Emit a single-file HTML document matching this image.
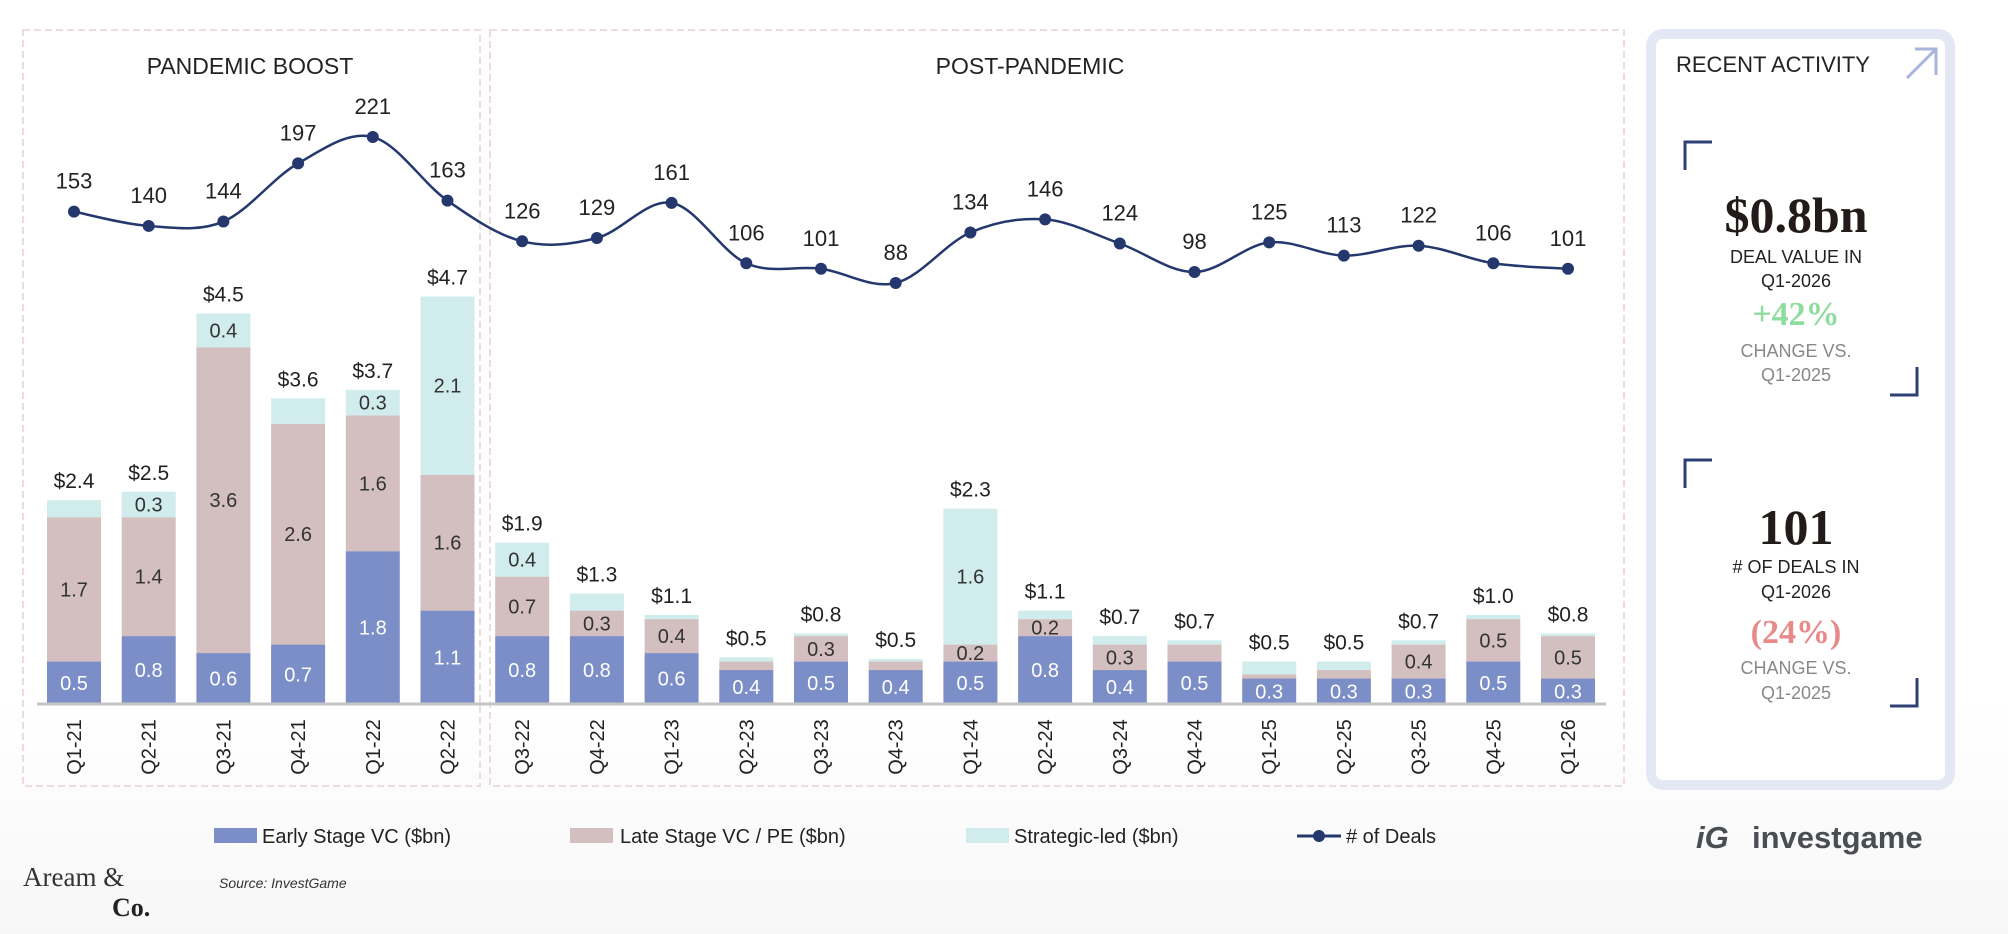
<!DOCTYPE html>
<html><head><meta charset="utf-8">
<style>
html,body{margin:0;padding:0;}
body{width:2008px;height:934px;overflow:hidden;background:linear-gradient(#ffffff 0%,#ffffff 75%,#f7f7f7 100%);font-family:"Liberation Sans",sans-serif;position:relative;}
svg{position:absolute;left:0;top:0;}
</style></head>
<body>
<svg id="chart" width="2008" height="934" viewBox="0 0 2008 934">
  <rect x="23" y="30" width="457" height="756" fill="none" stroke="#ecdcdc" stroke-width="2" stroke-dasharray="7,4"/>
  <rect x="490" y="30" width="1134" height="756" fill="none" stroke="#ecdcdc" stroke-width="2" stroke-dasharray="7,4"/>
  <text x="250" y="74" text-anchor="middle" font-size="23" fill="#222">PANDEMIC BOOST</text>
  <text x="1030" y="74" text-anchor="middle" font-size="23" fill="#222">POST-PANDEMIC</text>
  <g id="bars"></g>
  <line x1="37" y1="704" x2="1606" y2="704" stroke="#c4c4c4" stroke-width="3"/>
  <g id="xlabels"></g>
  <path id="dealline" fill="none" stroke="#25386e" stroke-width="2.5"/>
  <g id="points"></g>

  <g>
    <rect x="214" y="828" width="43" height="15" fill="#7b8ec8"/>
    <text x="262" y="843" font-size="20" fill="#222">Early Stage VC ($bn)</text>
    <rect x="570" y="828" width="43" height="15" fill="#d3bfbf"/>
    <text x="620" y="843" font-size="20" fill="#222">Late Stage VC / PE ($bn)</text>
    <rect x="966" y="828" width="43" height="15" fill="#d0ecec"/>
    <text x="1014" y="843" font-size="20" fill="#222">Strategic-led ($bn)</text>
    <line x1="1297" y1="836" x2="1341" y2="836" stroke="#25386e" stroke-width="3"/>
    <circle cx="1319" cy="836" r="6" fill="#25386e"/>
    <text x="1346" y="843" font-size="20" fill="#222"># of Deals</text>
  </g>

  <text x="23" y="886" font-family="Liberation Serif,serif" font-size="27" fill="#333">Aream &amp;</text>
  <text x="112" y="916" font-family="Liberation Serif,serif" font-size="26" font-weight="bold" fill="#222">Co.</text>
  <text x="219" y="888" font-size="14" font-style="italic" fill="#333">Source: InvestGame</text>
  <text x="1696" y="848" font-size="31" font-weight="bold" fill="#4a4d52" font-style="italic">iG</text>
  <text x="1752" y="848" font-size="31" font-weight="bold" fill="#4a4d52">investgame</text>

  <g>
    <rect x="1651" y="34" width="299" height="751" rx="12" fill="#ffffff" stroke="#e4e8f4" stroke-width="10"/>
    <text x="1676" y="72" font-size="22" fill="#222">RECENT ACTIVITY</text>
    <path d="M1907 78 L1935 50 M1915 49 L1936 49 L1936 75" fill="none" stroke="#a8b4dc" stroke-width="3"/>
    <path d="M1685 170 L1685 142 L1712 142" fill="none" stroke="#2e3f78" stroke-width="3"/>
    <path d="M1890 395 L1917 395 L1917 367" fill="none" stroke="#2e3f78" stroke-width="3"/>
    <text x="1796" y="232" text-anchor="middle" font-family="Liberation Serif,serif" font-size="50" font-weight="bold" fill="#231a1a">$0.8bn</text>
    <text x="1796" y="263" text-anchor="middle" font-size="18" fill="#222">DEAL VALUE IN</text>
    <text x="1796" y="287" text-anchor="middle" font-size="18" fill="#222">Q1-2026</text>
    <text x="1796" y="325" text-anchor="middle" font-family="Liberation Serif,serif" font-size="34" font-weight="bold" fill="#8fdca0">+42%</text>
    <text x="1796" y="357" text-anchor="middle" font-size="18" fill="#888">CHANGE VS.</text>
    <text x="1796" y="381" text-anchor="middle" font-size="18" fill="#888">Q1-2025</text>
    <path d="M1685 488 L1685 460 L1712 460" fill="none" stroke="#2e3f78" stroke-width="3"/>
    <path d="M1890 706 L1917 706 L1917 678" fill="none" stroke="#2e3f78" stroke-width="3"/>
    <text x="1796" y="544" text-anchor="middle" font-family="Liberation Serif,serif" font-size="50" font-weight="bold" fill="#231a1a">101</text>
    <text x="1796" y="573" text-anchor="middle" font-size="18" fill="#222"># OF DEALS IN</text>
    <text x="1796" y="598" text-anchor="middle" font-size="18" fill="#222">Q1-2026</text>
    <text x="1796" y="643" text-anchor="middle" font-family="Liberation Serif,serif" font-size="34" font-weight="bold" fill="#e88a8a">(24%)</text>
    <text x="1796" y="674" text-anchor="middle" font-size="18" fill="#888">CHANGE VS.</text>
    <text x="1796" y="699" text-anchor="middle" font-size="18" fill="#888">Q1-2025</text>
  </g>
</svg>
<script>
const categories=["Q1-21","Q2-21","Q3-21","Q4-21","Q1-22","Q2-22","Q3-22","Q4-22","Q1-23","Q2-23","Q3-23","Q4-23","Q1-24","Q2-24","Q3-24","Q4-24","Q1-25","Q2-25","Q3-25","Q4-25","Q1-26"];
const earlyStage=[0.5,0.8,0.6,0.7,1.8,1.1,0.8,0.8,0.6,0.4,0.5,0.4,0.5,0.8,0.4,0.5,0.3,0.3,0.3,0.5,0.3];
const lateStage=[1.7,1.4,3.6,2.6,1.6,1.6,0.7,0.3,0.4,0.1,0.3,0.1,0.2,0.2,0.3,0.2,0.05,0.1,0.4,0.5,0.5];
const strategic=[0.2,0.3,0.4,0.3,0.3,2.1,0.4,0.2,0.05,0.05,0.03,0.03,1.6,0.1,0.1,0.05,0.15,0.1,0.05,0.05,0.03];
const totalLabels=["$2.4","$2.5","$4.5","$3.6","$3.7","$4.7","$1.9","$1.3","$1.1","$0.5","$0.8","$0.5","$2.3","$1.1","$0.7","$0.7","$0.5","$0.5","$0.7","$1.0","$0.8"];
const earlyLabels=["0.5","0.8","0.6","0.7","1.8","1.1","0.8","0.8","0.6","0.4","0.5","0.4","0.5","0.8","0.4","0.5","0.3","0.3","0.3","0.5","0.3"];
const lateLabels=["1.7","1.4","3.6","2.6","1.6","1.6","0.7","0.3","0.4","","0.3","","0.2","0.2","0.3","","","","0.4","0.5","0.5"];
const strategicLabels=["","0.3","0.4","","0.3","2.1","0.4","","","","","","1.6","","","","","","","",""];
const deals=[153,140,144,197,221,163,126,129,161,106,101,88,134,146,124,98,125,113,122,106,101];

const NS="http://www.w3.org/2000/svg";
const xPos=i=>74+i*74.7;
const yBar=v=>704-v*84.9;
const yDeal=v=>137+(221-v)*1.098;
const BW=54;
function mk(tag,attrs,parent){const e=document.createElementNS(NS,tag);for(const k in attrs)e.setAttribute(k,attrs[k]);parent.appendChild(e);return e;}
const gb=document.getElementById('bars'),gx=document.getElementById('xlabels'),gp=document.getElementById('points');
const colors=["#7b8ec8","#d3bfbf","#d0ecec"];
const segNames=["early","late","strategic"];
const labelSets=[earlyLabels,lateLabels,strategicLabels];
categories.forEach((c,i)=>{
  const vals=[earlyStage[i],lateStage[i],strategic[i]];
  let base=0;
  vals.forEach((v,s)=>{
    const y1=yBar(base+v),y0=yBar(base);
    const r=mk('rect',{x:xPos(i)-BW/2,y:y1,width:BW,height:y0-y1,fill:colors[s]},gb);
    
    
    const lab=labelSets[s][i];
    if(lab){
      const t=mk('text',{x:xPos(i),y:(y0+y1)/2+7,'text-anchor':'middle','font-size':20,fill:s===0?'#ffffff':'#333'},gb);
      t.textContent=lab;
      
      
    }
    base+=v;
  });
  const tl=mk('text',{x:xPos(i),y:yBar(base)-12,'text-anchor':'middle','font-size':21,fill:'#222'},gb);
  tl.textContent=totalLabels[i];
  
  
  const xl=mk('text',{x:0,y:0,'text-anchor':'middle','font-size':20,fill:'#222',transform:`translate(${xPos(i)+7},747) rotate(-90)`},gx);
  xl.textContent=c;
  
  
});
const pts=deals.map((d,i)=>[xPos(i),yDeal(d)]);
let d=`M${pts[0][0]},${pts[0][1]}`;
for(let i=0;i<pts.length-1;i++){
  const p0=pts[Math.max(0,i-1)],p1=pts[i],p2=pts[i+1],p3=pts[Math.min(pts.length-1,i+2)];
  const c1=[p1[0]+(p2[0]-p0[0])/6,p1[1]+(p2[1]-p0[1])/6];
  const c2=[p2[0]-(p3[0]-p1[0])/6,p2[1]-(p3[1]-p1[1])/6];
  d+=` C${c1[0]},${c1[1]} ${c2[0]},${c2[1]} ${p2[0]},${p2[1]}`;
}
document.getElementById('dealline').setAttribute('d',d);
pts.forEach((p,i)=>{
  const c=mk('circle',{cx:p[0],cy:p[1],r:6,fill:'#25386e'},gp);
  
  
  const t=mk('text',{x:p[0],y:p[1]-23,'text-anchor':'middle','font-size':22,fill:'#222'},gp);
  t.textContent=deals[i];
  
  
});
</script>
</body></html>
